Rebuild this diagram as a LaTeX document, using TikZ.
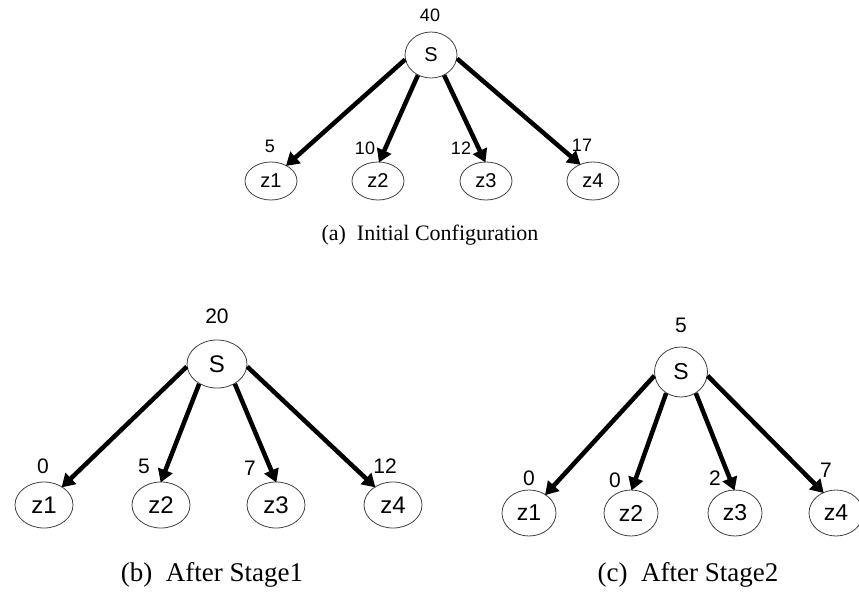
\documentclass[tikz,border=0pt]{standalone}
\usepackage{fontspec}
\setmainfont{Liberation Serif}
\setsansfont{Liberation Sans}
\usetikzlibrary{shapes.geometric}
\usetikzlibrary{arrows.meta}

\begin{document}
\begin{tikzpicture}[x=1pt,y=-1pt]
  \useasboundingbox (0,0) rectangle (859,596);
  \tikzstyle{srv}=[ellipse,draw=black!75,line width=0.8pt,inner sep=0pt]
  \tikzstyle{num}=[inner sep=0pt]
  \tikzstyle{captext}=[inner sep=0pt]
  \tikzstyle{arr}=[line width=4.5pt,-{Triangle[length=13pt,width=15pt]},shorten >=-1pt]

%% (a) initial configuration
  \begin{scope}[font=\sffamily\fontsize{18}{18}\selectfont,
                srv/.append style={font=\sffamily\fontsize{20}{20}\selectfont}]
  \node[srv,minimum width=52pt,minimum height=46pt] (a-S) at (431,55) {S};
  \node[num] (a-v0) at (430,15) {40};
  \foreach \n/\x in {1/271,2/378,3/486,4/593}
    \node[srv,minimum width=52pt,minimum height=38pt] (a-z\n) at (\x,181) {z\n};
  \foreach \n/\x/\y/\v in {1/270/146/5, 2/365/148/10, 3/461/148/12, 4/582/145/17}
    \node[num] (a-v\n) at (\x,\y) {\v};
  \foreach \n/\s/\e in {1/190/45, 2/237/86, 3/303/93, 4/352/128}
    \draw[arr] (a-S.\s) -- (a-z\n.\e);
  \end{scope}
  \node[captext,font=\fontsize{22}{22}\selectfont] (a-cap) at (430,235) {(a)\enspace Initial Configuration};

%% (b) after stage 1
  \begin{scope}[font=\sffamily\fontsize{21}{21}\selectfont,
                srv/.append style={font=\sffamily\fontsize{24}{24}\selectfont}]
  \node[srv,minimum width=60pt,minimum height=48pt] (b-S) at (217,364) {S};
  \node[num] (b-v0) at (217,316) {20};
  \foreach \n/\x in {1/44,2/161,3/276,4/393}
    \node[srv,minimum width=58pt,minimum height=46pt] (b-z\n) at (\x,505) {z\n};
  \foreach \n/\x/\y/\v in {1/43/466/0, 2/144/466/5, 3/250/468/7, 4/385/466/12}
    \node[num] (b-v\n) at (\x,\y) {\v};
  \foreach \n/\s/\e in {1/185/45, 2/228/90, 3/312/90, 4/355/135}
    \draw[arr] (b-S.\s) -- (b-z\n.\e);
  \end{scope}
  \node[captext,font=\fontsize{27}{27}\selectfont] (b-cap) at (212,575) {(b)\enspace After Stage1};

%% (c) after stage 2
  \begin{scope}[font=\sffamily\fontsize{21}{21}\selectfont,
                srv/.append style={font=\sffamily\fontsize{23}{23}\selectfont}]
  \node[srv,minimum width=53pt,minimum height=50pt] (c-S) at (681,372) {S};
  \node[num] (c-v0) at (681,325) {5};
  \foreach \n/\x in {1/529,2/631,3/735,4/836}
    \node[srv,minimum width=54pt,minimum height=46pt] (c-z\n) at (\x,513) {z\n};
  \foreach \n/\x/\y/\v in {1/529/478/0, 2/615/480/0, 3/715/478/2, 4/826/470/7}
    \node[num] (c-v\n) at (\x,\y) {\v};
  \foreach \n/\s/\e in {1/188/48, 2/235/88, 3/305/92, 4/352/122}
    \draw[arr] (c-S.\s) -- (c-z\n.\e);
  \end{scope}
  \node[captext,font=\fontsize{27}{27}\selectfont] (c-cap) at (688,575) {(c)\enspace After Stage2};
\end{tikzpicture}
\end{document}
